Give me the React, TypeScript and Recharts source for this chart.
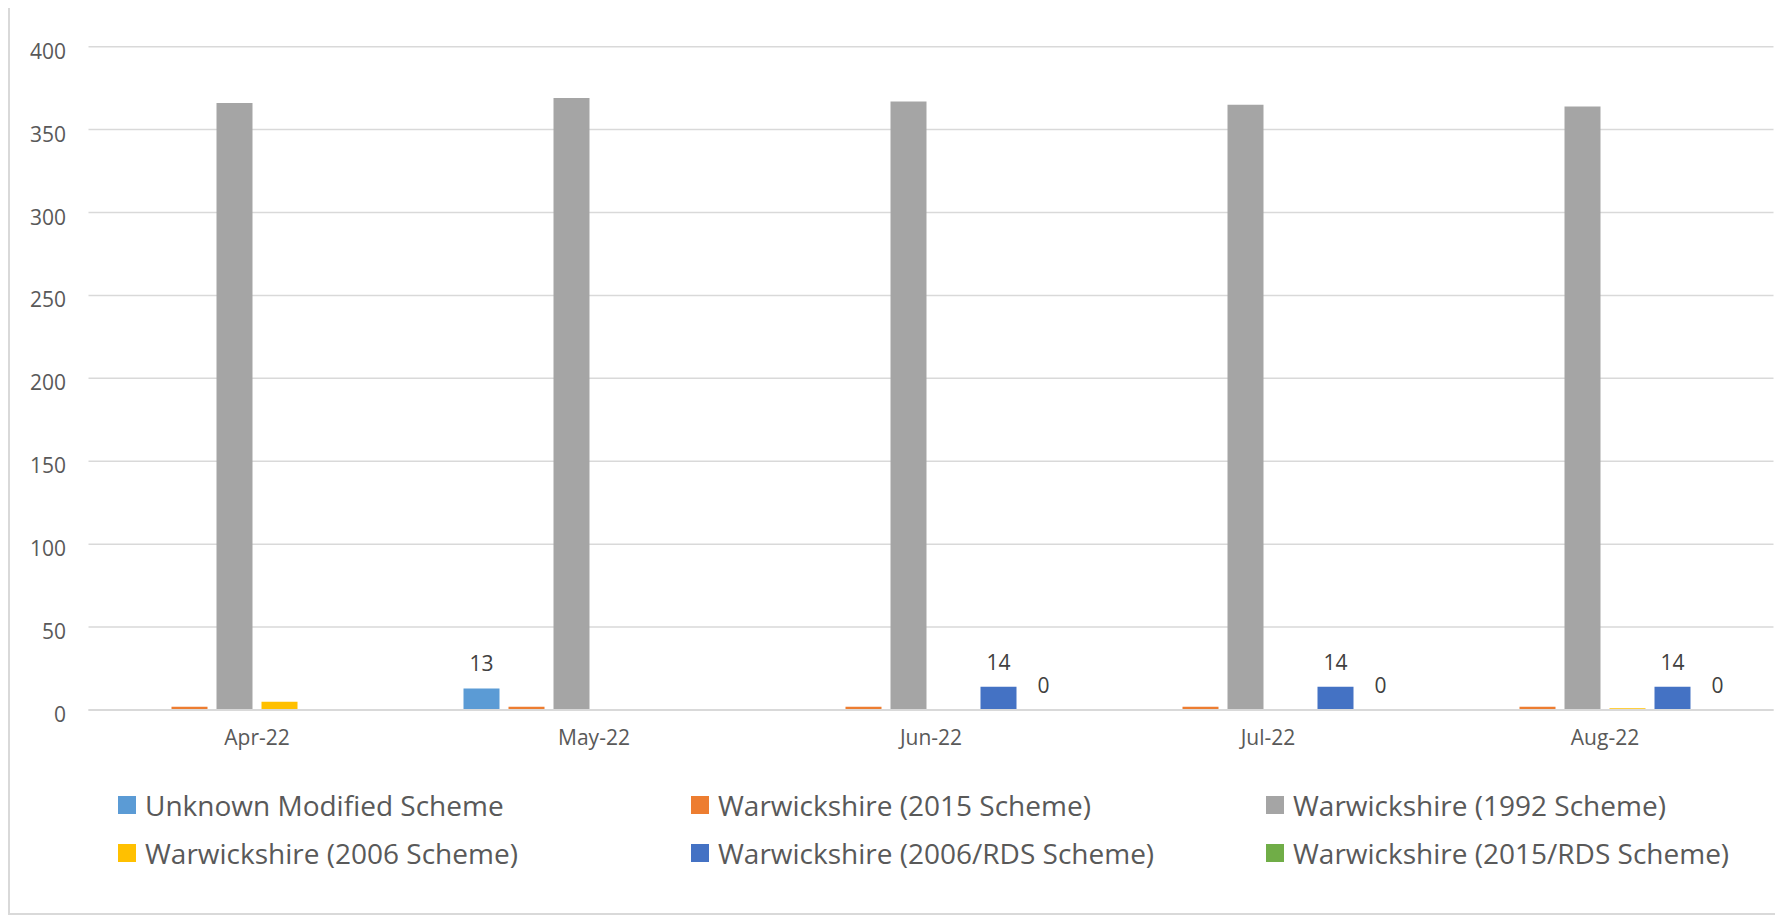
import { BarChart, Bar, XAxis, YAxis, CartesianGrid, Legend, LabelList } from 'recharts';

const months = ['Apr-22', 'May-22', 'Jun-22', 'Jul-22', 'Aug-22'];
const unknownModified = [null, 13, null, null, null];
const warks2015 = [2, 2, 2, 2, 2];
const warks1992 = [366, 369, 367, 365, 364];
const warks2006 = [5, null, null, null, 1];
const warks2006Rds = [null, null, 14, 14, 14];
const warks2015Rds = [null, null, 0, 0, 0];
const yTicks = [0, 50, 100, 150, 200, 250, 300, 350, 400];

const series = [
  { key: 'unknown', name: 'Unknown Modified Scheme', color: '#5b9bd5', values: unknownModified, labels: true },
  { key: 'w2015', name: 'Warwickshire (2015 Scheme)', color: '#ed7d31', values: warks2015, labels: false },
  { key: 'w1992', name: 'Warwickshire (1992 Scheme)', color: '#a5a5a5', values: warks1992, labels: false },
  { key: 'w2006', name: 'Warwickshire (2006 Scheme)', color: '#ffc000', values: warks2006, labels: false },
  { key: 'w2006rds', name: 'Warwickshire (2006/RDS Scheme)', color: '#4472c4', values: warks2006Rds, labels: true },
  { key: 'w2015rds', name: 'Warwickshire (2015/RDS Scheme)', color: '#70ad47', values: warks2015Rds, labels: true },
];

const data = months.map((m, i) => {
  const row: any = { month: m };
  series.forEach((s) => (row[s.key] = s.values[i]));
  return row;
});

const FONT = '"Open Sans", sans-serif';
const TEXT = '#595959';

const YTick = (props: any) => (
  <text x={56} y={props.y + 12} textAnchor="end" fill={TEXT} fontSize={21} fontFamily={FONT}>
    {props.payload.value}
  </text>
);

const XTick = (props: any) => (
  <text x={props.x} y={737} textAnchor="middle" fill={TEXT} fontSize={21} fontFamily={FONT}>
    {props.payload.value}
  </text>
);

const BarLabel = (props: any) => {
  if (props.value == null) return null;
  const top = Math.min(props.y, props.y + props.height);
  return (
    <text
      x={props.x + props.width / 2}
      y={top - 17}
      textAnchor="middle"
      fill="#404040"
      fontSize={21}
      fontFamily={FONT}
    >
      {props.value}
    </text>
  );
};

// legend columns positions (relative to chart)
const legendCols = [108, 681, 1256];
const legendRows = [0, 48];

const LegendContent = () => (
  <div style={{ position: 'relative', width: 1766, height: 120 }}>
    {series.map((s, i) => (
      <div
        key={s.key}
        style={{
          position: 'absolute',
          left: legendCols[i % 3],
          top: legendRows[Math.floor(i / 3)],
          height: 40,
          display: 'flex',
          alignItems: 'center',
          fontFamily: FONT,
          fontSize: 28,
          color: TEXT,
          whiteSpace: 'nowrap',
        }}
      >
        <span style={{ width: 18, height: 18, background: s.color, marginRight: 9, display: 'inline-block' }} />
        {s.name}
      </div>
    ))}
  </div>
);

export default function App() {
  return (
    <div
      style={{
        position: 'relative',
        width: 1770,
        height: 907,
        boxSizing: 'border-box',
        borderLeft: '2px solid #d9d9d9',
        borderRight: '2px solid #d9d9d9',
        borderBottom: '2px solid #d9d9d9',
        background: '#fff',
      }}
    >
      <BarChart
        width={1766}
        height={905}
        data={data}
        margin={{ top: 38.7, right: 2.5, left: 0, bottom: 163 }}
        barSize={36}
        barGap={9}
      >
        <CartesianGrid vertical={false} stroke="#d9d9d9" strokeWidth={1.5} />
        <XAxis
          dataKey="month"
          height={40}
          tickLine={false}
          axisLine={{ stroke: '#d9d9d9', strokeWidth: 2 }}
          tick={<XTick />}
          interval={0}
        />
        <YAxis
          width={78.5}
          domain={[0, 400]}
          ticks={yTicks}
          axisLine={false}
          tickLine={false}
          tick={<YTick />}
        />
        <Legend
          layout="horizontal"
          verticalAlign="middle"
          align="center"
          wrapperStyle={{ top: 777, left: 0, width: 1766 }}
          content={<LegendContent />}
        />
        {series.map((s) => (
          <Bar
            key={s.key}
            dataKey={s.key}
            name={s.name}
            fill={s.color}
            minPointSize={s.key === 'w2015rds' ? 0.01 : 0}
            isAnimationActive={false}
          >
            {s.labels && <LabelList dataKey={s.key} content={<BarLabel />} />}
          </Bar>
        ))}
      </BarChart>
    </div>
  );
}
